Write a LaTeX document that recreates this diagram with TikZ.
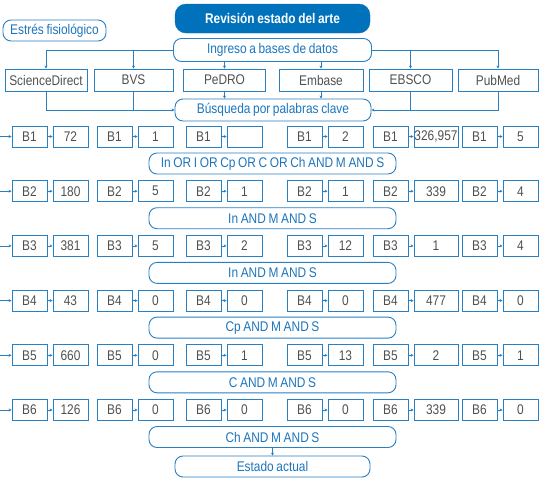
\documentclass[tikz,border=0pt]{standalone}
\usepackage{fontspec}
\setmainfont{Liberation Sans}[FakeStretch=0.85,WordSpace=0.8]
\usetikzlibrary{arrows.meta,calc}
\definecolor{bc}{RGB}{40,128,195}
\definecolor{fillb}{RGB}{0,114,188}
\definecolor{tg}{RGB}{80,80,80}
\definecolor{tb}{RGB}{28,117,188}
\tikzset{
  base/.style={draw=bc,line width=0.9pt,inner sep=1pt,font=\fontsize{14}{16}\selectfont},
  db/.style={base,rectangle,minimum width=82pt,minimum height=22pt,text=tg},
  bb/.style={base,rectangle,minimum width=35pt,minimum height=21pt,text=tg},
  rnd/.style={base,rounded corners=8pt,text=tb},
  arr/.style={draw=bc,line width=0.7pt,-{Stealth[length=3pt,width=3pt]}},
  ln/.style={draw=bc,line width=0.7pt},
}
\newcommand\mkrow[9]{%
  \node[bb] (b#1a) at (29.5,#2) {B#1};
  \node[bb] (v#1a) at (70.5,#2) {#3};
  \node[bb] (b#1b) at (114.5,#2) {B#1};
  \node[bb] (v#1b) at (155.5,#2) {#4};
  \node[bb] (b#1c) at (203.5,#2) {B#1};
  \node[bb] (v#1c) at (244.5,#2) {#5};
  \node[bb] (b#1d) at (304.5,#2) {B#1};
  \node[bb] (v#1d) at (345.5,#2) {#6};
  \node[bb] (b#1e) at (390.5,#2) {B#1};
  \node[bb,minimum width=44pt,inner sep=0pt] (v#1e) at (436,#2) {#7};
  \node[bb] (b#1f) at (479.5,#2) {B#1};
  \node[bb] (v#1f) at (520.5,#2) {#8};
  \coordinate (l#1) at (0,#2);
  \draw[arr] (l#1) -- (b#1a);
  \foreach \c in {a,b,c,d,e,f}{\draw[arr] (b#1\c) -- (v#1\c);}
  \node[rnd,minimum width=247pt,minimum height=21pt] (f#1) at (272.5,#2+27) {#9};
}
\begin{document}
\begin{tikzpicture}[x=1pt,y=-1pt]
\useasboundingbox (0,0) rectangle (542,483);
\node[rnd,minimum width=103pt,minimum height=21pt] (estres) at (54.5,30.5) {Estrés fisiológico};
\node[draw=fillb,fill=fillb,rounded corners=11pt,minimum width=195pt,minimum height=29pt,text=white,font=\bfseries\fontsize{14}{16}\selectfont] (rev) at (272.5,18.5) {Revisión estado del arte};
\node[rnd,minimum width=198pt,minimum height=23pt] (ing) at (272.5,50) {Ingreso a bases de datos};
\node[db] (sd) at (46,80) {ScienceDirect};
\node[db,minimum width=79pt] (bvs) at (133.5,80) {BVS};
\node[db] (pedro) at (224.5,80) {PeDRO};
\node[db,minimum width=84pt] (emb) at (321,80) {Embase};
\node[db,minimum width=83pt] (ebsco) at (410.5,80) {EBSCO};
\node[db,minimum width=80pt] (pub) at (498,80) {PubMed};
\node[rnd,minimum width=196pt,minimum height=22pt] (bus) at (273,110) {Búsqueda por palabras clave};
\draw[arr] (ing.west) -| (sd.north);
\draw[arr] (ing.west -| bvs.north) -- (bvs.north);
\draw[arr] (ing.south -| pedro.north) -- (pedro.north);
\draw[arr] (ing.south -| emb.north) -- (emb.north);
\draw[arr] (ing.east) -| (pub.north);
\draw[arr] (ing.east -| ebsco.north) -- (ebsco.north);
\draw[arr] (sd.south) |- (bus.west);
\draw[ln] (bvs.south) -- (bvs.south |- bus.west);
\draw[arr] (pedro.south) -- (pedro.south |- bus.north);
\draw[arr] (emb.south) -- (emb.south |- bus.north);
\draw[arr] (pub.south) |- (bus.east);
\draw[ln] (ebsco.south) -- (ebsco.south |- bus.east);
\mkrow{1}{136.5}{72}{1}{}{2}{326,957}{5}{In OR I OR Cp OR C OR Ch AND M AND S}
\mkrow{2}{191.2}{180}{5}{1}{1}{339}{4}{In AND M AND S}
\mkrow{3}{245.9}{381}{5}{2}{12}{1}{4}{In AND M AND S}
\mkrow{4}{300.6}{43}{0}{0}{0}{477}{0}{Cp AND M AND S}
\mkrow{5}{355.3}{660}{0}{1}{13}{2}{1}{C AND M AND S}
\mkrow{6}{410}{126}{0}{0}{0}{339}{0}{Ch AND M AND S}
\node[rnd,minimum width=195pt,minimum height=21pt] (est) at (272.5,466.5) {Estado actual};
\draw[arr] (f6.south) -- (est.north);
\end{tikzpicture}
\end{document}
